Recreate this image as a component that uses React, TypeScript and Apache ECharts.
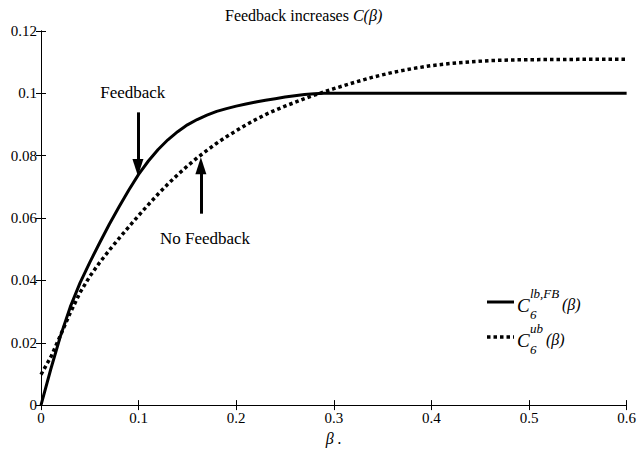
import React, { useEffect, useRef } from "react";
import * as echarts from "echarts";

const betaFB = [0, 0.01, 0.02, 0.03, 0.04, 0.05, 0.06, 0.07, 0.08, 0.09, 0.1, 0.11, 0.12, 0.13, 0.14, 0.15, 0.16, 0.17, 0.18, 0.19, 0.2, 0.21, 0.22, 0.23, 0.24, 0.25, 0.26, 0.27, 0.28, 0.29, 0.3, 0.4, 0.5, 0.6];
const valFB = [0, 0.0115, 0.0222, 0.0315, 0.0392, 0.0458, 0.052, 0.058, 0.0636, 0.069, 0.074, 0.0783, 0.082, 0.0851, 0.0877, 0.0899, 0.0916, 0.093, 0.0942, 0.0951, 0.0959, 0.0966, 0.0972, 0.0978, 0.0983, 0.0988, 0.0992, 0.0996, 0.0999, 0.1, 0.1, 0.1, 0.1, 0.1];

const betaNFB = [0, 0.01, 0.02, 0.03, 0.04, 0.05, 0.06, 0.07, 0.08, 0.09, 0.1, 0.11, 0.12, 0.13, 0.14, 0.15, 0.16, 0.17, 0.18, 0.19, 0.2, 0.21, 0.22, 0.23, 0.24, 0.25, 0.26, 0.27, 0.28, 0.29, 0.3, 0.32, 0.34, 0.36, 0.38, 0.4, 0.42, 0.44, 0.46, 0.48, 0.5, 0.55, 0.6];
const valNFB = [0.0098, 0.0154, 0.0224, 0.0296, 0.0361, 0.0413, 0.0457, 0.0497, 0.0535, 0.0572, 0.0608, 0.0643, 0.0677, 0.0709, 0.0739, 0.0767, 0.0793, 0.0817, 0.084, 0.0861, 0.088, 0.0899, 0.0916, 0.0932, 0.0946, 0.0959, 0.0971, 0.0983, 0.0994, 0.1005, 0.1015, 0.1034, 0.1052, 0.1067, 0.1079, 0.1089, 0.1096, 0.1101, 0.1105, 0.1107, 0.1108, 0.1109, 0.1109];

const xTicks = { min: 0, max: 0.6, interval: 0.1 };
const yTicks = { min: 0, max: 0.12, interval: 0.02 };

const FONT = "'Liberation Serif', 'DejaVu Serif', serif";

export default function App() {
  const ref = useRef<HTMLDivElement>(null);
  useEffect(() => {
    if (!ref.current) return;
    const chart = echarts.init(ref.current, null, { renderer: "svg" });
    const axisCommon = {
      axisLine: { show: true, lineStyle: { color: "#000", width: 1 } },
      axisTick: { show: true, inside: true, length: 5, lineStyle: { color: "#000" } },
      splitLine: { show: false },
    };
    const arrowStyle = { color: "#000", width: 3, type: "solid" as const };
    chart.setOption({
      animation: false,
      backgroundColor: "#fff",
      title: {
        text: "{a|Feedback increases }{b|C(β)}",
        left: 220,
        top: 2,
        textStyle: {
          fontWeight: "normal",
          rich: {
            a: { fontFamily: FONT, fontSize: 16, color: "#000", fontWeight: "normal" },
            b: { fontFamily: FONT, fontSize: 16, color: "#000", fontStyle: "italic", fontWeight: "normal" },
          },
        },
      },
      grid: { left: 41, right: 12, top: 31, bottom: 43, containLabel: false },
      xAxis: [
        {
          type: "value",
          ...xTicks,
          position: "bottom",
          ...axisCommon,
          axisLabel: { color: "#000", fontFamily: FONT, fontSize: 15, margin: 5 },
          name: "β .",
          nameLocation: "middle",
          nameGap: 20,
          nameTextStyle: { color: "#000", fontFamily: FONT, fontSize: 16, fontStyle: "italic" },
        },
        {
          type: "value",
          ...xTicks,
          position: "top",
          ...axisCommon,
          axisLabel: { show: false },
        },
      ],
      yAxis: [
        {
          type: "value",
          ...yTicks,
          position: "left",
          ...axisCommon,
          axisLabel: { color: "#000", fontFamily: FONT, fontSize: 15, margin: 4 },
        },
        {
          type: "value",
          ...yTicks,
          position: "right",
          ...axisCommon,
          axisLabel: { show: false },
        },
      ],
      series: [
        {
          type: "line",
          name: "FB",
          data: betaFB.map((b, i) => [b, valFB[i]]),
          showSymbol: false,
          symbol: "none",
          lineStyle: { color: "#000", width: 3 },
          markLine: {
            silent: true,
            symbol: ["none", "triangle"],
            symbolSize: [11, 17],
            label: { show: false },
            lineStyle: arrowStyle,
            data: [
              [{ coord: [0.0993, 0.0939] }, { coord: [0.0993, 0.0762] }],
              [{ coord: [0.1638, 0.0614] }, { coord: [0.1638, 0.0768] }],
            ],
          },
          markPoint: {
            silent: true,
            symbol: "circle",
            symbolSize: 0,
            itemStyle: { color: "transparent" },
            label: { show: true, position: "inside", color: "#000", fontFamily: FONT, fontSize: 17 },
            data: [
              { coord: [0.094, 0.1003], value: "Feedback", label: { formatter: "Feedback" } },
              { coord: [0.168, 0.0535], value: "No Feedback", label: { formatter: "No Feedback" } },
            ],
          },
        },
        {
          type: "line",
          name: "NFB",
          data: betaNFB.map((b, i) => [b, valNFB[i]]),
          showSymbol: false,
          symbol: "none",
          lineStyle: { color: "#000", width: 3.5, type: [3.5, 3] },
        },
      ],
      graphic: [
        { type: "line", shape: { x1: 487, y1: 302, x2: 514, y2: 302 }, style: { stroke: "#000", lineWidth: 3 } },
        { type: "line", shape: { x1: 487, y1: 337, x2: 514, y2: 337 }, style: { stroke: "#000", lineWidth: 3.5, lineDash: [3.5, 3] } },
        { type: "text", x: 517, y: 305, style: { text: "C", font: `italic 19px ${FONT}`, fill: "#000", verticalAlign: "middle" } },
        { type: "text", x: 530, y: 293, style: { text: "lb,FB", font: `italic 13px ${FONT}`, fill: "#000", verticalAlign: "middle" } },
        { type: "text", x: 530, y: 314, style: { text: "6", font: `italic 13px ${FONT}`, fill: "#000", verticalAlign: "middle" } },
        { type: "text", x: 562, y: 304, style: { text: "(β)", font: `italic 16px ${FONT}`, fill: "#000", verticalAlign: "middle" } },
        { type: "text", x: 517, y: 340, style: { text: "C", font: `italic 19px ${FONT}`, fill: "#000", verticalAlign: "middle" } },
        { type: "text", x: 530, y: 328, style: { text: "ub", font: `italic 13px ${FONT}`, fill: "#000", verticalAlign: "middle" } },
        { type: "text", x: 530, y: 349, style: { text: "6", font: `italic 13px ${FONT}`, fill: "#000", verticalAlign: "middle" } },
        { type: "text", x: 546, y: 339, style: { text: "(β)", font: `italic 16px ${FONT}`, fill: "#000", verticalAlign: "middle" } },
      ],
    });
    return () => chart.dispose();
  }, []);
  return <div ref={ref} style={{ width: 639, height: 451, position: "absolute", left: 0, top: 0 }} />;
}
